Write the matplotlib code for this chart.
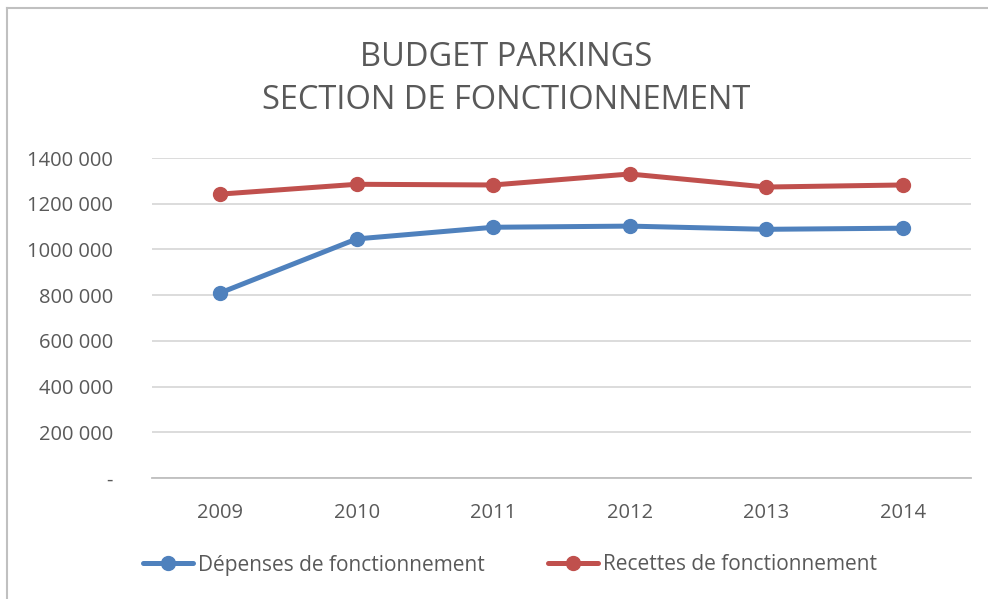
import matplotlib
matplotlib.use("Agg")
import matplotlib.pyplot as plt
from matplotlib.lines import Line2D
from matplotlib.ticker import FixedLocator, FuncFormatter

years = ["2009", "2010", "2011", "2012", "2013", "2014"]
depenses = [810000, 1046000, 1097000, 1102000, 1088000, 1093000]
recettes = [1242000, 1285000, 1282000, 1330000, 1273000, 1282000]
series_names = ["Dépenses de fonctionnement", "Recettes de fonctionnement"]
title = "BUDGET PARKINGS\nSECTION DE FONCTIONNEMENT"
yticks = [0, 200000, 400000, 600000, 800000, 1000000, 1200000, 1400000]

plt.rcParams['font.family'] = ['Open Sans', 'DejaVu Sans']

W, H = 988, 599
fig = plt.figure(figsize=(W / 100, H / 100), dpi=100)
ax = fig.add_axes([152 / W, 1 - 478 / H, (971 - 152) / W, (478 - 158) / H])

blue = "#4f81bd"
red = "#c0504d"
x = list(range(len(years)))
ax.plot(x, depenses, color=blue, lw=3.6, marker="o", ms=10, label=series_names[0], solid_capstyle="round")
ax.plot(x, recettes, color=red, lw=3.6, marker="o", ms=10, label=series_names[1], solid_capstyle="round")

ax.set_xlim(-0.5, len(years) - 0.5)
ax.set_ylim(0, 1400000)
ax.set_xticks(x)
ax.set_xticklabels(years)
ax.yaxis.set_major_locator(FixedLocator(yticks))

def fmt(v, pos):
    iv = int(v)
    if iv == 0:
        return "-"
    return f"{iv // 1000} {iv % 1000:03d}"

ax.yaxis.set_major_formatter(FuncFormatter(fmt))
ax.grid(axis="y", color="#d9d9d9", lw=1.3)
ax.set_axisbelow(True)
for s in ["top", "right", "left"]:
    ax.spines[s].set_visible(False)
ax.spines["bottom"].set_color("#bfbfbf")
ax.spines["bottom"].set_linewidth(1.3)
ax.tick_params(length=0, labelsize=14.5, colors="#595959")
ax.tick_params(axis="x", pad=18)
ax.tick_params(axis="y", pad=28)

fig.text(506 / W, 1 - 79 / H, title, ha="center", va="center",
         fontsize=23.5, color="#595959", linespacing=1.42)

leg = fig.legend(loc="center", bbox_to_anchor=(510 / W, 1 - 565 / H), ncol=2, frameon=False,
                 fontsize=15, handlelength=2.4, columnspacing=3.0, handletextpad=0.25)
for t in leg.get_texts():
    t.set_color("#595959")

# chart frame (top and left lines)
fig.add_artist(Line2D([7 / W, 1], [1 - 8 / H, 1 - 8 / H], color="#c0c0c0", lw=1.5, transform=fig.transFigure))
fig.add_artist(Line2D([7 / W, 7 / W], [1 - 8 / H, 0], color="#c0c0c0", lw=1.5, transform=fig.transFigure))

fig.savefig("out.png", dpi=100)
